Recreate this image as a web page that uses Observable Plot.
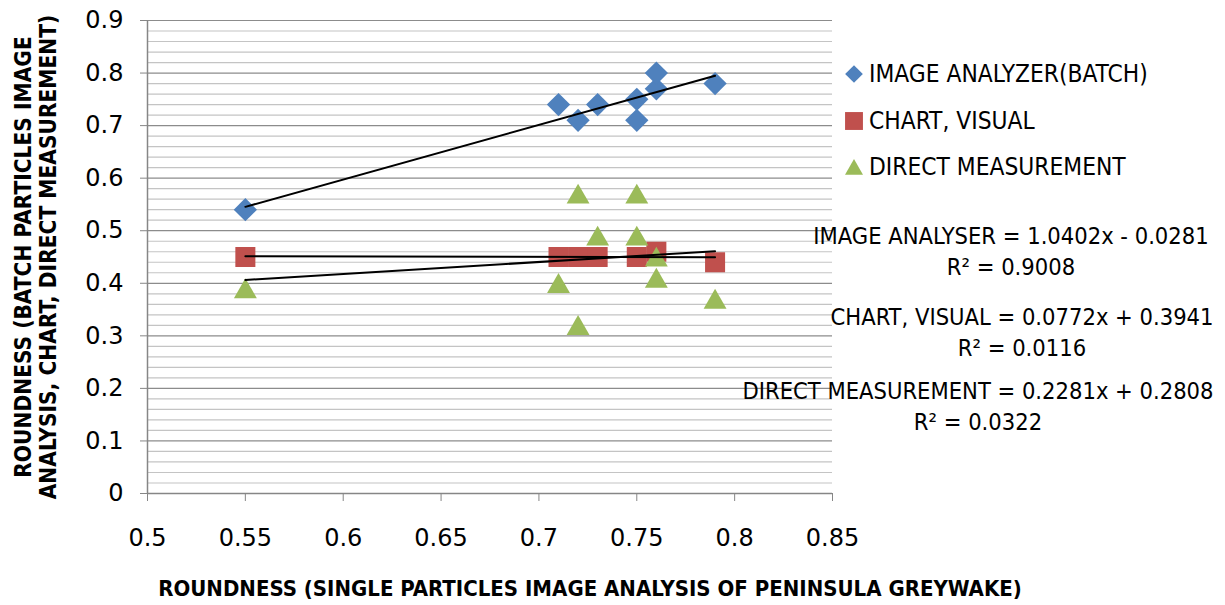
<!DOCTYPE html>
<html>
<head>
<meta charset="utf-8">
<script src="https://cdn.jsdelivr.net/npm/d3@7"></script>
<script src="https://cdn.jsdelivr.net/npm/@observablehq/plot@0.6"></script>
<style>
  body { margin: 0; background: #fff; }
  #wrap { position: relative; width: 1225px; height: 605px; overflow: hidden;
          font-family: "DejaVu Sans Condensed", "DejaVu Sans", sans-serif; color: #000; }
  .abs { position: absolute; white-space: nowrap; }
  #wrap svg.plot { position: absolute; left: 0; top: 0; }
</style>
</head>
<body>
<div id="wrap"></div>
<script>
// ---------- data ----------
const seriesNames = ["IMAGE ANALYZER(BATCH)", "CHART, VISUAL", "DIRECT MEASUREMENT"];
const seriesColors = ["#4F81BD", "#C0504D", "#9BBB59"];
const seriesSymbols = ["diamond2", "square", "triangle"];

const analyzerX = [0.55, 0.71, 0.72, 0.73, 0.75, 0.75, 0.76, 0.76, 0.79];
const analyzerY = [0.54, 0.74, 0.71, 0.74, 0.75, 0.71, 0.77, 0.80, 0.78];

const chartX = [0.55, 0.71, 0.72, 0.73, 0.75, 0.76, 0.79];
const chartY = [0.45, 0.45, 0.45, 0.45, 0.45, 0.46, 0.44];

const directX = [0.55, 0.71, 0.72, 0.72, 0.73, 0.75, 0.75, 0.76, 0.76, 0.79];
const directY = [0.39, 0.40, 0.57, 0.32, 0.49, 0.57, 0.49, 0.45, 0.41, 0.37];

const xTicks = [0.5, 0.55, 0.6, 0.65, 0.7, 0.75, 0.8, 0.85];
const xTickLabels = ["0.5", "0.55", "0.6", "0.65", "0.7", "0.75", "0.8", "0.85"];
const yTicks = [0, 0.1, 0.2, 0.3, 0.4, 0.5, 0.6, 0.7, 0.8, 0.9];
const yTickLabels = ["0", "0.1", "0.2", "0.3", "0.4", "0.5", "0.6", "0.7", "0.8", "0.9"];
const yMinorTicks = [0.02, 0.04, 0.06, 0.08, 0.12, 0.14, 0.16, 0.18, 0.22, 0.24, 0.26, 0.28,
  0.32, 0.34, 0.36, 0.38, 0.42, 0.44, 0.46, 0.48, 0.52, 0.54, 0.56, 0.58, 0.62, 0.64, 0.66, 0.68,
  0.72, 0.74, 0.76, 0.78, 0.82, 0.84, 0.86, 0.88];

const equationLines = [
  ["IMAGE ANALYSER = 1.0402x - 0.0281", "R² = 0.9008"],
  ["CHART, VISUAL = 0.0772x + 0.3941", "R² = 0.0116"],
  ["DIRECT MEASUREMENT = 0.2281x + 0.2808", "R² = 0.0322"]
];
const xTitle = "ROUNDNESS (SINGLE PARTICLES IMAGE ANALYSIS OF PENINSULA GREYWAKE)";
const yTitleLines = ["ROUNDNESS (BATCH PARTICLES IMAGE", "ANALYSIS, CHART, DIRECT MEASUREMENT)"];

// ---------- build table ----------
const seriesX = [analyzerX, chartX, directX];
const seriesY = [analyzerY, chartY, directY];
const rows = [];
seriesNames.forEach((name, s) => {
  seriesX[s].forEach((x, i) => rows.push({series: name, x, y: seriesY[s][i]}));
});
const bySeries = (name) => rows.filter(d => d.series === name);

const fmtX = d => xTickLabels[xTicks.indexOf(d)];
const fmtY = d => yTickLabels[yTicks.indexOf(d)];

const plot = Plot.plot({
  width: 1225,
  height: 605,
  marginLeft: 147,
  marginRight: 393,
  marginTop: 20,
  marginBottom: 112,
  style: {fontFamily: '"DejaVu Sans", sans-serif', fontSize: "24px", color: "#000", background: "transparent"},
  x: {domain: [0.5, 0.85]},
  y: {domain: [0, 0.9]},
  color: {domain: seriesNames, range: seriesColors},
  symbol: {domain: seriesNames, range: seriesSymbols},
  marks: [
    Plot.ruleY(yMinorTicks, {stroke: "#c4c4c4", strokeWidth: 1.2}),
    Plot.ruleY(yTicks, {stroke: "#8c8c8c", strokeWidth: 1.2}),
    Plot.ruleX([0.5], {stroke: "#868686", strokeWidth: 1.5}),
    Plot.ruleY([0], {stroke: "#868686", strokeWidth: 1.5}),
    Plot.axisY({ticks: yTicks, tickFormat: fmtY, tickSize: 7, tickPadding: 17, stroke: "#868686", fill: "#000", label: null, fontSize: 24}),
    Plot.axisX({ticks: xTicks, tickFormat: fmtX, tickSize: 8, tickPadding: 27, stroke: "#868686", fill: "#000", label: null, fontSize: 24}),
    Plot.dot(bySeries(seriesNames[0]), {x: "x", y: "y", fill: "series", symbol: "series", r: 10.5}),
    Plot.dot(bySeries(seriesNames[1]), {x: "x", y: "y", fill: "series", symbol: "series", r: 11.3}),
    Plot.dot(bySeries(seriesNames[2]), {x: "x", y: "y", fill: "series", symbol: "series", r: 8.5, dy: 3}),
    Plot.linearRegressionY(rows, {x: "x", y: "y", z: "series", stroke: "#000", strokeWidth: 2, ci: 0})
  ]
});

const wrap = document.getElementById("wrap");
plot.classList.add("plot");
wrap.appendChild(plot);

function addDiv(html, css) {
  const el = document.createElement("div");
  el.className = "abs";
  el.innerHTML = html;
  Object.assign(el.style, css);
  wrap.appendChild(el);
  return el;
}

// axis titles
addDiv(xTitle, {left: "590px", top: "588px", transform: "translate(-50%,-50%)", fontWeight: "bold", fontSize: "22px"});
addDiv(yTitleLines.join("<br>"), {left: "36px", top: "257px", transform: "translate(-50%,-50%) rotate(-90deg)",
  fontWeight: "bold", fontSize: "22.5px", lineHeight: "25px", textAlign: "center"});

// legend
const legendY = [74, 121, 167];
const legendSizes = [200, 320, 140];
seriesNames.forEach((name, i) => {
  const sym = {diamond2: d3.symbolDiamond2, square: d3.symbolSquare, triangle: d3.symbolTriangle}[seriesSymbols[i]];
  const path = d3.symbol(sym, legendSizes[i])();
  const dy = seriesSymbols[i] === "triangle" ? 2.5 : 0;
  addDiv(`<svg width="22" height="22" style="display:block"><path d="${path}" transform="translate(11,${11 + dy})" fill="${seriesColors[i]}"/></svg>`,
    {left: "843px", top: (legendY[i] - 11) + "px"});
  addDiv(name, {left: "869px", top: (legendY[i] - 1) + "px", transform: "translateY(-50%)", fontSize: "24.3px"});
});

// trendline equations
const eqCenterX = [1011, 1022, 978];
const eqTopY = [237, 318, 392];
equationLines.forEach((lines, i) => {
  addDiv(lines.join("<br>"), {left: eqCenterX[i] + "px", top: (eqTopY[i] - 16) + "px", transform: "translateX(-50%)",
    textAlign: "center", fontSize: "23.5px", lineHeight: "31px"});
});
</script>
</body>
</html>
